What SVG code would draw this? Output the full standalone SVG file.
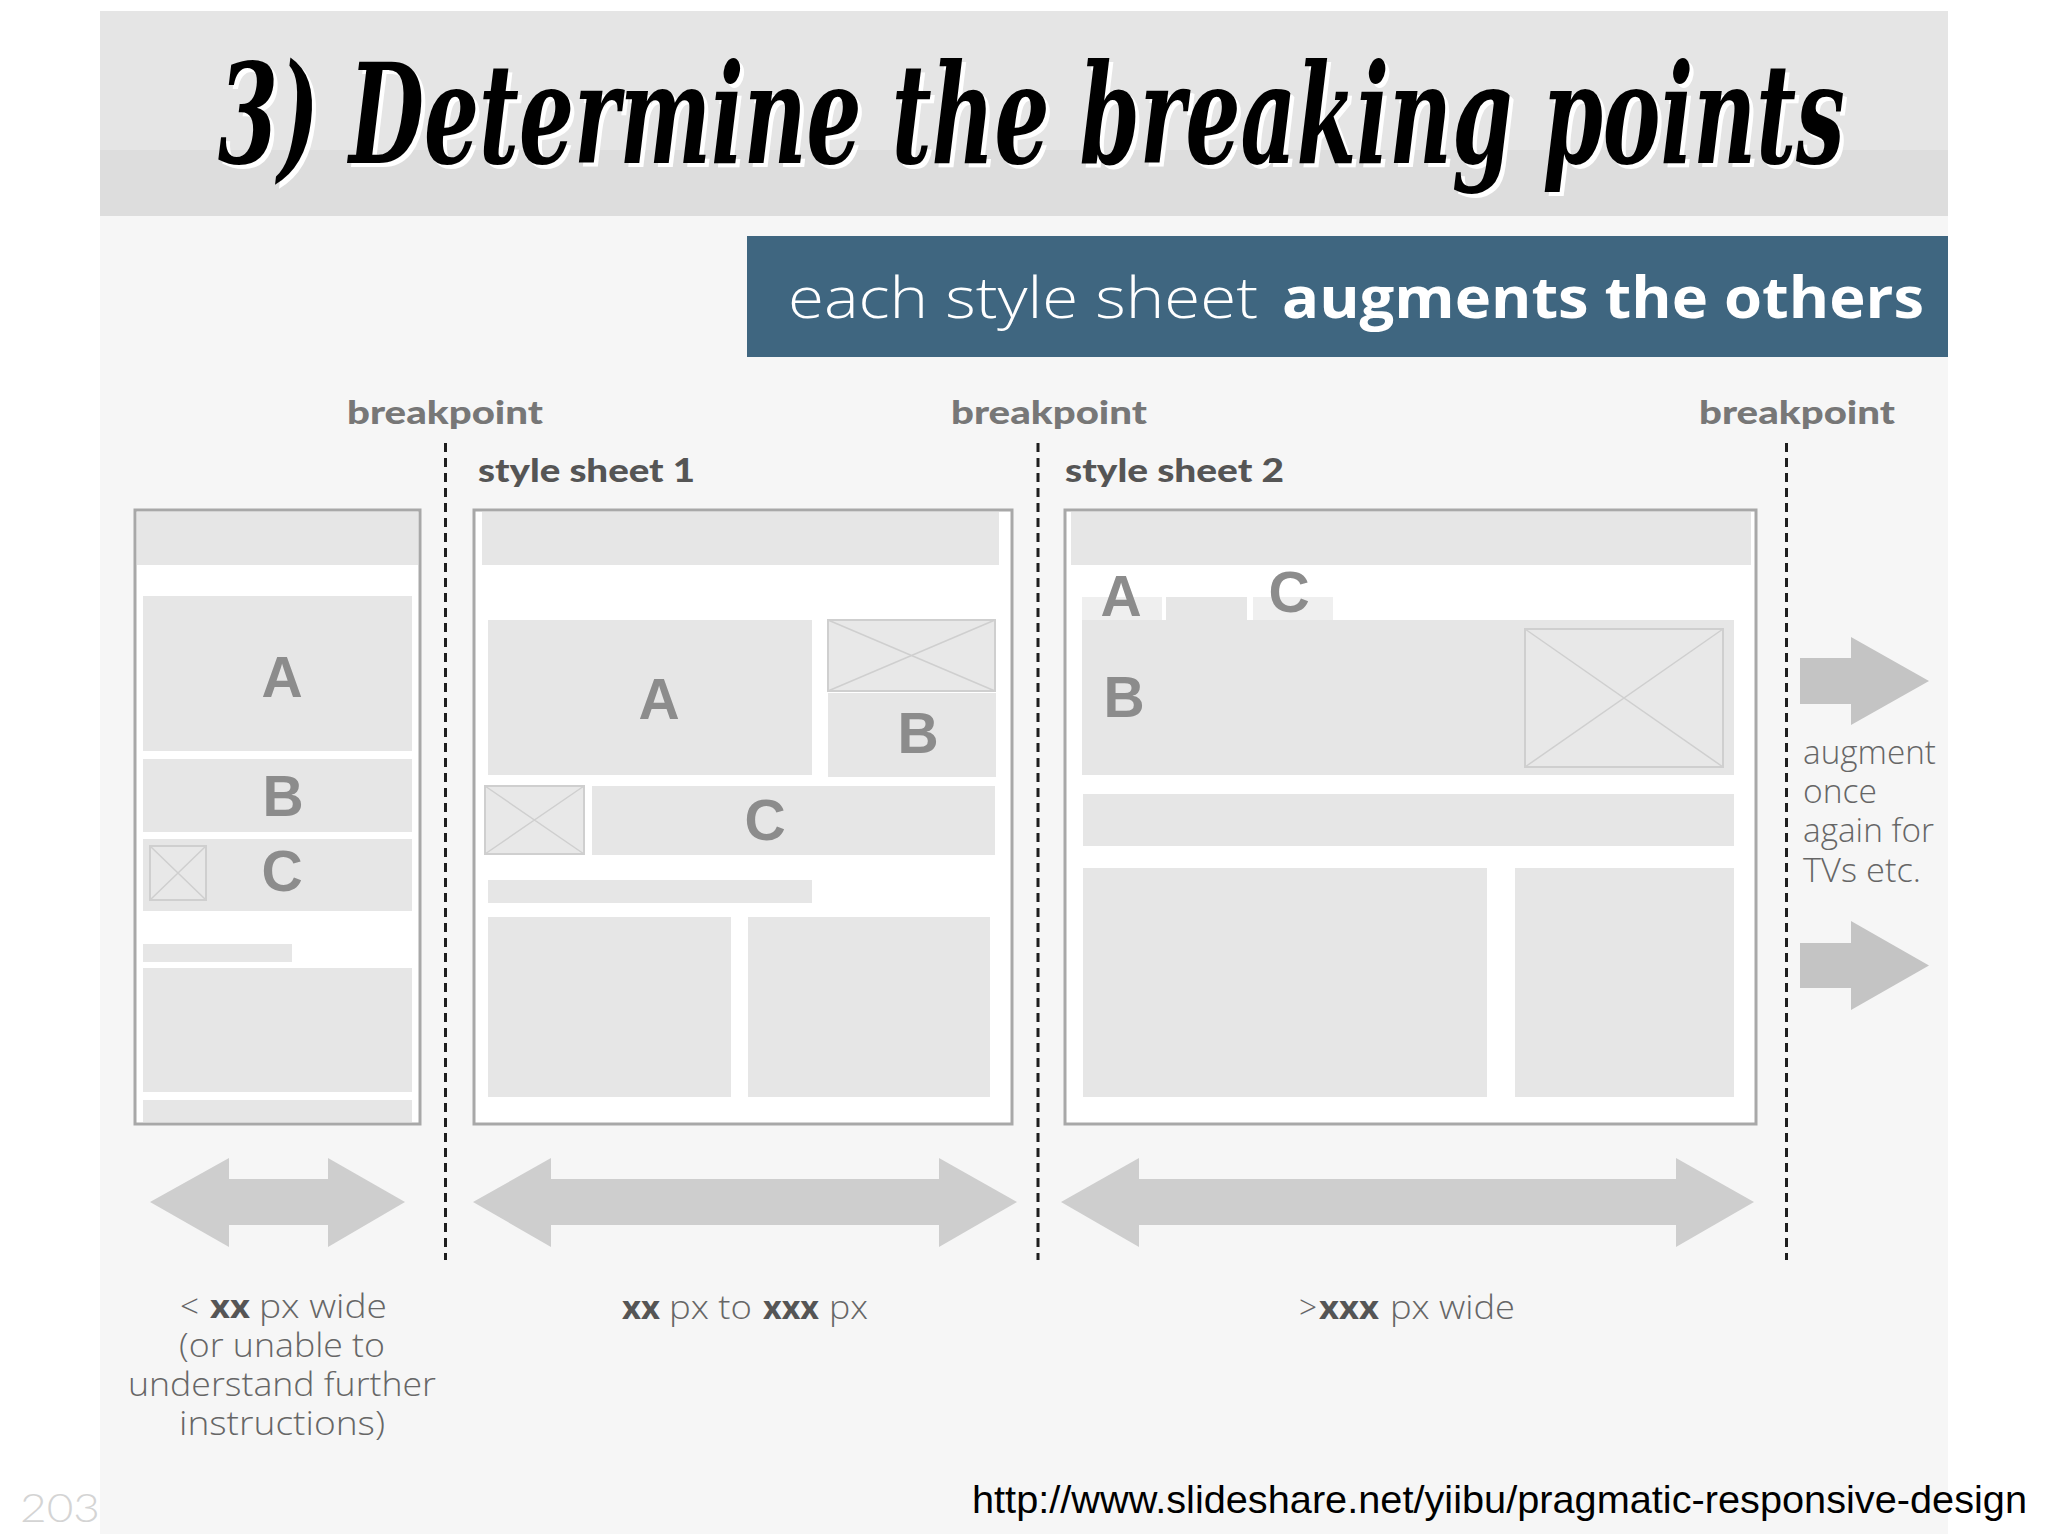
<svg xmlns="http://www.w3.org/2000/svg" width="2048" height="1534" viewBox="0 0 2048 1534">
<defs>
<style>
.frame{fill:#ffffff;stroke:#a8a8a8;stroke-width:3}
.blk{fill:#e6e6e6}
.tab{fill:#efefef}
.img{fill:#e8e8e8;stroke:#cfcfcf;stroke-width:2}
.x{stroke:#cfcfcf;stroke-width:1.5;fill:none}
.lbl{font-family:"Liberation Sans",Arial,sans-serif;font-weight:bold;font-size:57px;fill:#8c8c8c;text-anchor:middle}
.bp{font-family:Lato,"DejaVu Sans",sans-serif;font-weight:900;font-size:33px;fill:#777777}
.ss{font-family:Lato,"DejaVu Sans",sans-serif;font-weight:900;font-size:33px;fill:#555555}
.dash{stroke:#1e1e1e;stroke-width:3;stroke-dasharray:9 6;fill:none}
.dbl{fill:#cecece}
.rarr{fill:#c4c4c4}
.cap{font-family:"Open Sans",Lato,sans-serif;font-weight:300;font-size:33px;fill:#666666}
.capb{font-family:"Open Sans",Lato,sans-serif;font-weight:700;font-size:33px;fill:#555555}
.ttl{font-family:"DejaVu Serif Condensed","DejaVu Serif",serif;font-style:italic;font-weight:bold;font-size:138px}
</style>
</defs>

<!-- page -->
<rect x="0" y="0" width="2048" height="1534" fill="#ffffff"/>
<rect x="100" y="11" width="1848" height="1523" fill="#f6f6f6"/>

<g id="title-band">
<rect x="100" y="11" width="1848" height="139" fill="#e5e5e5"/>
<rect x="100" y="150" width="1848" height="66" fill="#dddddd"/>
<text class="ttl" transform="translate(222,167) scale(0.67,1)" x="0" y="0" fill="#ffffff" textLength="2428" lengthAdjust="spacingAndGlyphs">3) Determine the breaking points</text>
<text class="ttl" transform="translate(218,163) scale(0.67,1)" x="0" y="0" fill="#000000" textLength="2428" lengthAdjust="spacingAndGlyphs">3) Determine the breaking points</text>
</g>

<g id="banner">
<rect x="747" y="236" width="1201" height="121" fill="#3f6680"/>
<text x="788" y="318" font-family="'Open Sans',Lato,sans-serif" font-weight="300" font-size="57" fill="#ffffff" textLength="470" lengthAdjust="spacingAndGlyphs">each style sheet</text>
<text x="1282" y="318" font-family="'Open Sans',Lato,sans-serif" font-weight="700" font-size="57" fill="#ffffff" textLength="642" lengthAdjust="spacingAndGlyphs">augments the others</text>
</g>

<g id="breakpoint-labels">
<text class="bp" x="347" y="424" textLength="196" lengthAdjust="spacingAndGlyphs">breakpoint</text>
<text class="bp" x="951" y="424" textLength="196" lengthAdjust="spacingAndGlyphs">breakpoint</text>
<text class="bp" x="1699" y="424" textLength="196" lengthAdjust="spacingAndGlyphs">breakpoint</text>
<text class="ss" x="478" y="482" textLength="217" lengthAdjust="spacingAndGlyphs">style sheet 1</text>
<text class="ss" x="1065" y="482" textLength="219" lengthAdjust="spacingAndGlyphs">style sheet 2</text>
</g>

<g id="frame-small">
<rect class="frame" x="135" y="510" width="285" height="614"/>
<rect class="blk" x="137" y="512" width="281" height="53"/>
<rect class="blk" x="143" y="596" width="269" height="155"/>
<rect class="blk" x="143" y="759" width="269" height="73"/>
<rect class="blk" x="143" y="839" width="269" height="72"/>
<rect class="img" x="150" y="846" width="56" height="54"/>
<path class="x" d="M150 846 L206 900 M206 846 L150 900"/>
<rect class="blk" x="143" y="944" width="149" height="18"/>
<rect class="blk" x="143" y="968" width="269" height="124"/>
<rect class="blk" x="143" y="1100" width="269" height="22"/>
<text class="lbl" x="282" y="697">A</text>
<text class="lbl" x="283" y="816">B</text>
<text class="lbl" x="282" y="891">C</text>
</g>

<g id="frame-medium">
<rect class="frame" x="474" y="510" width="538" height="614"/>
<rect class="blk" x="482" y="512" width="517" height="53"/>
<rect class="blk" x="488" y="620" width="324" height="155"/>
<rect class="blk" x="828" y="693" width="168" height="84"/>
<rect class="img" x="828" y="620" width="167" height="71"/>
<path class="x" d="M828 620 L995 691 M995 620 L828 691"/>
<rect class="img" x="485" y="786" width="99" height="68"/>
<path class="x" d="M485 786 L584 854 M584 786 L485 854"/>
<rect class="blk" x="592" y="786" width="403" height="69"/>
<rect class="blk" x="488" y="880" width="324" height="23"/>
<rect class="blk" x="488" y="917" width="243" height="180"/>
<rect class="blk" x="748" y="917" width="242" height="180"/>
<text class="lbl" x="659" y="719">A</text>
<text class="lbl" x="918" y="753">B</text>
<text class="lbl" x="765" y="840">C</text>
</g>

<g id="frame-large">
<rect class="frame" x="1065" y="510" width="691" height="614"/>
<rect class="blk" x="1071" y="512" width="680" height="53"/>
<rect class="tab" x="1082" y="597" width="80" height="23"/>
<rect class="blk" x="1166" y="597" width="81" height="23"/>
<rect class="tab" x="1253" y="597" width="80" height="23"/>
<rect class="blk" x="1082" y="620" width="652" height="155"/>
<rect class="img" x="1525" y="629" width="198" height="138"/>
<path class="x" d="M1525 629 L1723 767 M1723 629 L1525 767"/>
<rect class="blk" x="1083" y="794" width="651" height="52"/>
<rect class="blk" x="1083" y="868" width="404" height="229"/>
<rect class="blk" x="1515" y="868" width="219" height="229"/>
<text class="lbl" x="1121" y="616">A</text>
<text class="lbl" x="1289" y="612">C</text>
<text class="lbl" x="1124" y="717">B</text>
</g>

<g id="breakpoint-lines">
<line class="dash" x1="445.5" y1="443" x2="445.5" y2="1260"/>
<line class="dash" x1="1038" y1="443" x2="1038" y2="1260"/>
<line class="dash" x1="1786.5" y1="443" x2="1786.5" y2="1260"/>
</g>

<g id="connectors">
<polygon class="dbl" points="150,1202 229,1158 229,1179 328,1179 328,1158 405,1202 328,1247 328,1225 229,1225 229,1247"/>
<polygon class="dbl" points="473,1202 551,1158 551,1179 939,1179 939,1158 1017,1202 939,1247 939,1225 551,1225 551,1247"/>
<polygon class="dbl" points="1061,1202 1139,1158 1139,1179 1676,1179 1676,1158 1754,1202 1676,1247 1676,1225 1139,1225 1139,1247"/>
<polygon class="rarr" points="1800,658 1851,658 1851,637 1929,681 1851,725 1851,704 1800,704"/>
<polygon class="rarr" points="1800,943 1851,943 1851,921 1929,965.5 1851,1010 1851,988 1800,988"/>
</g>

<g id="caption-small">
<text class="cap" x="180" y="1318" textLength="19" lengthAdjust="spacingAndGlyphs">&lt;</text>
<text class="capb" x="210" y="1318" textLength="40" lengthAdjust="spacingAndGlyphs">xx</text>
<text class="cap" x="259" y="1318" textLength="128" lengthAdjust="spacingAndGlyphs">px wide</text>
<text class="cap" x="282" y="1357" text-anchor="middle" textLength="206" lengthAdjust="spacingAndGlyphs">(or unable to</text>
<text class="cap" x="282" y="1396" text-anchor="middle" textLength="308" lengthAdjust="spacingAndGlyphs">understand further</text>
<text class="cap" x="282" y="1435" text-anchor="middle" textLength="206" lengthAdjust="spacingAndGlyphs">instructions)</text>
</g>

<g id="caption-medium">
<text class="capb" x="622" y="1319" textLength="38" lengthAdjust="spacingAndGlyphs">xx</text>
<text class="cap" x="669" y="1319" textLength="83" lengthAdjust="spacingAndGlyphs">px to</text>
<text class="capb" x="763" y="1319" textLength="56" lengthAdjust="spacingAndGlyphs">xxx</text>
<text class="cap" x="829" y="1319" textLength="39" lengthAdjust="spacingAndGlyphs">px</text>
</g>

<g id="caption-large">
<text class="cap" x="1299" y="1319" textLength="18" lengthAdjust="spacingAndGlyphs">&gt;</text>
<text class="capb" x="1319" y="1319" textLength="60" lengthAdjust="spacingAndGlyphs">xxx</text>
<text class="cap" x="1390" y="1319" textLength="125" lengthAdjust="spacingAndGlyphs">px wide</text>
</g>

<g id="caption-tv">
<text class="cap" x="1803" y="764" fill="#777777" textLength="133" lengthAdjust="spacingAndGlyphs">augment</text>
<text class="cap" x="1803" y="803" fill="#777777" textLength="74" lengthAdjust="spacingAndGlyphs">once</text>
<text class="cap" x="1803" y="842" fill="#777777" textLength="131" lengthAdjust="spacingAndGlyphs">again for</text>
<text class="cap" x="1803" y="882" fill="#777777" textLength="118" lengthAdjust="spacingAndGlyphs">TVs etc.</text>
</g>

<g id="footer">
<text x="20" y="1522" font-family="Lato,'Open Sans',sans-serif" font-weight="300" font-size="40" fill="#d4d4d4" textLength="80" lengthAdjust="spacingAndGlyphs">203</text>
<text x="972" y="1513" font-family="'Liberation Sans',Arial,sans-serif" font-size="39.6" fill="#000000" textLength="1055" lengthAdjust="spacingAndGlyphs">http://www.slideshare.net/yiibu/pragmatic-responsive-design</text>
</g>
</svg>
